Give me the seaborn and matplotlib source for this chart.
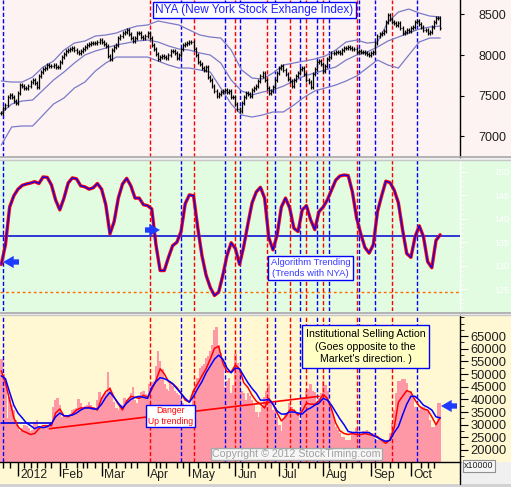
import numpy as np
import pandas as pd
import matplotlib
matplotlib.use("Agg")
import matplotlib.pyplot as plt
import seaborn as sns
from matplotlib.lines import Line2D
from matplotlib.patches import Rectangle
from matplotlib.ticker import FixedLocator
from matplotlib.transforms import blended_transform_factory

# ---------------- data ----------------
holidays = ["2011-12-26", "2012-01-02", "2012-01-16", "2012-02-20",
            "2012-04-06", "2012-05-28", "2012-07-04", "2012-09-03"]
dates = pd.bdate_range("2011-12-20", "2012-10-19")
dates = dates[~dates.isin(pd.to_datetime(holidays))]
days = np.arange(len(dates))

nya_close = [
    7288, 7349, 7386, 7484, 7509, 7484, 7435, 7410, 7533, 7631,
    7619, 7595, 7595, 7619, 7668, 7693, 7656, 7607, 7742, 7791,
    7828, 7840, 7877, 7865, 7865, 7877, 7853, 7853, 7914, 7975,
    8012, 8049, 8061, 8074, 8086, 8061, 8037, 8025, 8049, 8074,
    8098, 8123, 8135, 8147, 8147, 8147, 8160, 8184, 8160, 8135,
    8111, 7988, 7951, 8061, 8098, 8123, 8209, 8233, 8270, 8283,
    8307, 8258, 8209, 8172, 8209, 8270, 8270, 8221, 8209, 8233,
    8270, 8209, 8123, 8074, 8012, 7951, 7975, 7988, 7975, 7963,
    8000, 8049, 8049, 8025, 7963, 8000, 8074, 8123, 8135, 8147,
    8160, 8160, 8074, 8000, 7914, 7889, 7840, 7816, 7853, 7730,
    7693, 7619, 7558, 7496, 7521, 7545, 7558, 7570, 7545, 7558,
    7484, 7484, 7398, 7337, 7312, 7410, 7484, 7533, 7521, 7496,
    7570, 7595, 7619, 7681, 7742, 7779, 7693, 7595, 7533, 7558,
    7607, 7693, 7779, 7840, 7865, 7816, 7767, 7705, 7681, 7619,
    7693, 7742, 7779, 7828, 7840, 7767, 7693, 7668, 7607, 7767,
    7828, 7914, 7926, 7889, 7803, 7865, 7951, 7975, 8025, 8025,
    8037, 8037, 8025, 8061, 8086, 8086, 8098, 8086, 8074, 8074,
    8037, 8049, 8037, 8037, 8025, 8012, 8000, 8025, 8037, 8147,
    8233, 8258, 8270, 8295, 8405, 8491, 8442, 8405, 8393, 8369,
    8393, 8332, 8270, 8283, 8307, 8295, 8332, 8344, 8405, 8418,
    8381, 8344, 8307, 8307, 8270, 8283, 8344, 8405, 8455, 8455, 8332]

# Bollinger bands, one value every 5 trading days
band_upper = [7681, 7668, 7668, 7730, 7853, 7926, 8061, 8147, 8172, 8233,
              8246, 8270, 8319, 8356, 8369, 8418, 8393, 8369, 8307, 8246,
              8221, 8209, 8061, 7816, 7717, 7705, 7779, 7877, 7902, 7926,
              7951, 7988, 8061, 8160, 8184, 8147, 8160, 8405, 8528, 8565,
              8516, 8479, 8467]
band_mid = [7288, 7398, 7435, 7447, 7570, 7693, 7791, 7902, 8000, 8049,
            8086, 8123, 8147, 8172, 8184, 8160, 8111, 8074, 8061, 8025,
            8000, 7902, 7693, 7558, 7509, 7545, 7570, 7619, 7681, 7742,
            7779, 7816, 7853, 7939, 8000, 8037, 8098, 8172, 8221, 8270,
            8319, 8344, 8356]
band_lower = [6894, 7116, 7128, 7128, 7263, 7398, 7472, 7595, 7668, 7803,
              7902, 7975, 7975, 7975, 7975, 7926, 7877, 7840, 7840, 7816,
              7791, 7595, 7398, 7263, 7238, 7263, 7300, 7300, 7386, 7484,
              7558, 7595, 7631, 7681, 7742, 7840, 7939, 7877, 7840, 8000,
              8160, 8209, 8209]

# Algorithm trending oscillator, one value every 2 trading days
algo = [130.3, 134.5, 142.5, 144.9, 146.3, 147.1, 147.4, 147.6, 147.9, 147.5,
        148.9, 148.8, 147.2, 144.0, 141.9, 144.4, 147.6, 148.7, 148.5, 147.0,
        146.8, 146.3, 146.6, 147.5, 146.3, 143.0, 136.8, 139.4, 144.4, 147.4,
        148.6, 147.0, 144.4, 144.4, 143.0, 142.8, 142.1, 134.5, 129.0, 129.0,
        131.8, 134.3, 135.0, 137.3, 143.2, 145.1, 144.9, 138.1, 132.2, 128.0,
        125.4, 123.7, 124.4, 128.0, 132.2, 134.9, 133.7, 130.3, 134.1, 138.9,
        143.4, 145.7, 146.7, 144.4, 136.0, 133.4, 136.6, 142.5, 144.4, 142.3,
        138.0, 137.3, 141.9, 142.8, 139.8, 137.7, 141.5, 142.5, 144.0, 146.1,
        148.2, 149.1, 149.3, 149.2, 145.7, 140.2, 136.8, 133.9, 132.7, 134.5,
        141.5, 144.9, 148.0, 147.7, 146.1, 143.4, 137.7, 132.6, 131.8, 136.2,
        138.5, 136.2, 130.9, 129.6, 135.4, 136.6]
algo_level = 136.3
algo_low_level = 124.5

# Institutional selling (x10000)
inst_volume = [
    55900, 50100, 46600, 32700, 40800, 37700, 35800, 31900, 30000, 27300,
    28800, 30000, 29600, 28800, 27300, 28000, 31100, 31900, 28800, 28800,
    29200, 30000, 30000, 30000, 31100, 36900, 39700, 40400, 37700, 33100,
    33500, 33800, 33100, 34200, 35800, 36200, 36600, 40000, 38500, 36900,
    37300, 37700, 38900, 37700, 36900, 36600, 39700, 42800, 40800, 41200,
    42400, 50900, 44700, 41600, 38900, 36600, 35800, 36900, 37700, 40400,
    39700, 40000, 42400, 44700, 39700, 38500, 40800, 42800, 43500, 42000,
    41600, 46200, 47000, 47400, 53200, 59000, 55200, 52100, 46200, 44300,
    43500, 46600, 45100, 43500, 42400, 41600, 40400, 38500, 37700, 36900,
    35800, 37700, 43500, 46200, 48600, 52400, 53200, 54000, 56300, 57100,
    59000, 61700, 67600, 68700, 61700, 58300, 54000, 44700, 47400, 48600,
    42400, 45500, 57900, 54400, 51300, 43500, 42400, 39700, 42400, 41200,
    39700, 37700, 35000, 33100, 35000, 36900, 40800, 43500, 46200, 39700,
    35800, 35000, 33100, 30000, 27300, 31900, 34600, 34600, 38500, 36900,
    35800, 34600, 33800, 31900, 40800, 40800, 43500, 44300, 46200, 43500,
    42800, 38500, 40400, 42400, 47400, 45500, 43500, 38500, 35800, 33100,
    29200, 28000, 26900, 25300, 25300, 24100, 24100, 24100, 26900, 26900,
    28800, 26100, 26100, 27300, 27300, 28000, 26900, 26900, 26900, 24100,
    24100, 24900, 24100, 23400, 24100, 24100, 26900, 30700, 35800, 42400,
    47400, 47400, 48200, 48200, 46600, 43500, 43500, 40800, 36900, 36900,
    35800, 36900, 36900, 35800, 35800, 31900, 29200, 29200, 30700, 38500, 38500]

# fast (red) and slow (blue) averages, one value every 2 trading days
inst_fast = [51300, 46600, 39700, 32700, 29200, 27600, 26900, 26100, 26500, 28400,
             29600, 29600, 29600, 34600, 36200, 33500, 33100, 34200, 35800, 36600,
             36600, 36900, 36600, 35800, 40400, 43100, 44300, 40800, 38100, 35800,
             39300, 41200, 40800, 40400, 41600, 40800, 43900, 47400, 52100, 50100,
             47000, 46200, 44700, 42400, 39700, 38900, 43500, 46200, 49300, 52100,
             55900, 60200, 61000, 54400, 50900, 50900, 53600, 52100, 46600, 44700,
             41600, 39300, 38100, 36600, 40400, 38100, 34600, 31500, 33100, 35800,
             35800, 33800, 35400, 38500, 38100, 38100, 39300, 42000, 40400, 36200,
             30700, 27600, 26500, 26100, 26500, 26100, 26100, 26500, 26100, 25700,
             25300, 23800, 22600, 24100, 28800, 38900, 41200, 43500, 42800, 39700,
             37300, 36200, 35800, 33100, 30000, 32700]
inst_slow = [49300, 48200, 42800, 37700, 34600, 32700, 30700, 29600, 28400, 29200,
             28800, 29200, 30400, 33100, 34600, 33500, 33500, 33800, 34600, 35800,
             36600, 36600, 36200, 36200, 38100, 40800, 42800, 40800, 38500, 36600,
             38500, 40000, 40800, 41200, 40800, 40400, 44700, 47000, 48600, 48200,
             47400, 46200, 44300, 42400, 40400, 38900, 41200, 44300, 47000, 50500,
             53200, 55900, 57500, 55900, 52400, 50500, 52400, 52100, 49300, 46600,
             44300, 42400, 39700, 39700, 40000, 38100, 35400, 34200, 34200, 35000,
             35000, 34600, 34200, 35800, 36600, 37700, 38500, 40400, 39700, 37700,
             35000, 32300, 30000, 27300, 26900, 26900, 26900, 26900, 26900, 25700,
             24900, 24100, 23400, 23800, 26900, 29200, 33800, 38100, 41200, 41200,
             39700, 37700, 36900, 35800, 33100, 32700]
trend_days = [23, 152]
trend_vals = [28400, 41200]
support_days = [0, 24]
support_vals = [30700, 30700]

signal_red = [71, 92, 112, 127, 138, 146, 154, 170, 187]
signal_blue = [1, 86, 107, 114, 131, 143, 151, 157, 171, 179, 199]

month_labels = ["2012", "Feb", "Mar", "Apr", "May", "Jun", "Jul", "Aug", "Sep", "Oct"]
price_ticks = [7000, 7500, 8000, 8500]
algo_ticks = [125, 130, 135, 140, 145, 150]
vol_ticks = [20000, 25000, 30000, 35000, 40000, 45000, 50000, 55000, 60000, 65000]

days2 = days[::2]
days5 = days[::5]

# ---------------- style ----------------
sns.set_style("white")
plt.rcParams["font.family"] = ["Liberation Sans", "DejaVu Sans"]

W, H = 511, 487
PINK_BG = "#FDF3F3"
GREEN_BG = "#E2FCE2"
YELLOW_BG = "#FFF8D2"
BAR = "#FF98A6"
BAND = "#7A7AC8"
RED = "#FF0000"
BLUE = "#0000FF"

fig = plt.figure(figsize=(W / 100, H / 100), dpi=100)
fig.patch.set_facecolor("#F0F0F0")


def fbox(x0, y0, x1, y1):
    return [x0 / W, 1 - y1 / H, (x1 - x0) / W, (y1 - y0) / H]


def bg(x0, y0, x1, y1, color):
    fig.add_artist(Rectangle((x0 / W, 1 - y1 / H), (x1 - x0) / W, (y1 - y0) / H,
                             transform=fig.transFigure, fc=color, ec="none", zorder=0))


def hline_px(y, color, lw=1.0, x0=0, x1=W):
    fig.add_artist(Line2D([x0 / W, x1 / W], [1 - y / H, 1 - y / H],
                          transform=fig.transFigure, color=color, lw=lw, zorder=10))


bg(0, 0, W, 157, PINK_BG)
bg(0, 160, W, 312, GREEN_BG)
bg(0, 315, W, 462, YELLOW_BG)
bg(0, 462, 460, 484, YELLOW_BG)
bg(460, 462, W, 484, "#F0F0F0")
hline_px(157.5, "#A8A8A8", 1.2)
hline_px(159.5, "#C8C8C8", 1.0)
hline_px(312.5, "#A8A8A8", 1.2)
hline_px(314.5, "#C8C8C8", 1.0)
hline_px(485, "#D0D0D0", 2.0)

XL = (-1.28 / 2.09, (460 - 1.28) / 2.09)
dash = (0, (3, 1.6))


def signals(ax):
    for d in signal_red:
        ax.axvline(d, color=RED, ls=dash, lw=1.0, zorder=3)
    for d in signal_blue:
        ax.axvline(d, color=BLUE, ls=dash, lw=1.0, zorder=3)


def frame(ax, face, spine_color):
    ax.set_facecolor(face)
    ax.set_xlim(*XL)
    for s in ["left", "top", "bottom"]:
        ax.spines[s].set_visible(False)
    ax.spines["right"].set_color(spine_color)
    ax.spines["right"].set_linewidth(1.0)
    ax.yaxis.tick_right()
    ax.set_xticks([])


def arrow(ax, x_tail, x_head, y, top, height):
    yy = 1 - (y - top) / height
    ax.annotate("", xy=(x_head / 460, yy), xytext=(x_tail / 460, yy),
                xycoords="axes fraction", textcoords="axes fraction",
                arrowprops=dict(arrowstyle="simple,head_length=0.7,head_width=0.8,tail_width=0.35",
                                color="#1E3CFF", lw=0, mutation_scale=11,
                                shrinkA=0, shrinkB=0), zorder=9)


# ---------------- price panel ----------------
ax1 = fig.add_axes(fbox(0, 0, 460, 157))
frame(ax1, PINK_BG, "black")
ax1.set_ylim(6747, 8676)
signals(ax1)
close = np.asarray(nya_close, float)
opens = np.r_[close[0], close[:-1]]
hi = np.maximum(opens, close) + 20
lo = np.minimum(opens, close) - 20
ax1.vlines(days, lo, hi, color="black", lw=0.9, zorder=5)
ax1.hlines(opens, days - 0.45, days, color="black", lw=0.9, zorder=5)
ax1.hlines(close, days, days + 0.45, color="black", lw=0.9, zorder=5)
for band in (band_upper, band_mid, band_lower):
    sns.lineplot(x=days5, y=band, ax=ax1, color=BAND, lw=0.9, estimator=None,
                 sort=False, zorder=4)
ax1.set_yticks(price_ticks)
ax1.tick_params(axis="y", direction="out", length=3, pad=10.5, labelsize=9,
                colors="black", labelcolor="#202020")
ax1.set_ylabel("")
ax1.text(254.5 / 460, 1 - 10 / 157, "NYA (New York Stock Exhange Index)",
         transform=ax1.transAxes, ha="center", va="center", fontsize=8.5,
         color="#2020FF", zorder=8,
         bbox=dict(boxstyle="square,pad=0.18", fc="white", ec=BLUE, lw=1.0))

# ---------------- algorithm panel ----------------
ax2 = fig.add_axes(fbox(0, 160, 460, 311))
frame(ax2, GREEN_BG, "white")
ax2.set_ylim(120.4, 152.5)
signals(ax2)
ax2.axhline(algo_level, color="#0000D0", lw=1.1, zorder=4)
ax2.axhline(algo_low_level, color="#FF6A00", ls=(0, (2, 2)), lw=1.0, zorder=4)
sns.lineplot(x=days2, y=algo, ax=ax2, color=RED, lw=2.4, estimator=None,
             sort=False, zorder=5)
sns.lineplot(x=days2, y=algo, ax=ax2, color="#0000FF", lw=0.9, estimator=None,
             sort=False, zorder=6)
ax2.set_yticks(algo_ticks)
ax2.yaxis.set_minor_locator(FixedLocator(np.arange(121, 153, 1)))
ax2.tick_params(axis="y", which="major", direction="out", length=5, pad=20,
                labelsize=6.5, colors="white", labelcolor="white")
ax2.tick_params(axis="y", which="minor", direction="out", length=2.5,
                colors="white")
ax2.set_ylabel("")
ax2.text(310.5 / 460, 1 - (268 - 160) / 151, "Algorithm Trending\n(Trends with NYA)",
         transform=ax2.transAxes, ha="center", va="center", fontsize=6.8,
         color="#3A3AFF", linespacing=1.25, zorder=8,
         bbox=dict(boxstyle="square,pad=0.25", fc="white", ec=BLUE, lw=1.0))
arrow(ax2, 19, 3, 262, 160, 151)
arrow(ax2, 145, 160, 230, 160, 151)

# ---------------- institutional selling panel ----------------
ax3 = fig.add_axes(fbox(0, 315, 460, 462))
frame(ax3, YELLOW_BG, "black")
ax3.set_ylim(15233, 73373)
ax3.bar(days, inst_volume, width=1.25, color=BAR, lw=0, zorder=2)
signals(ax3)
sns.lineplot(x=trend_days, y=trend_vals, ax=ax3, color=RED, lw=1.2,
             estimator=None, sort=False, zorder=4)
sns.lineplot(x=support_days, y=support_vals, ax=ax3, color="#0000E0", lw=1.2,
             estimator=None, sort=False, zorder=4)
sns.lineplot(x=days2, y=inst_fast, ax=ax3, color=RED, lw=1.1, estimator=None,
             sort=False, zorder=5)
sns.lineplot(x=days2, y=inst_slow, ax=ax3, color="#0000FF", lw=1.1, estimator=None,
             sort=False, zorder=6)
ax3.set_ylabel("")
ax3.set_yticks(vol_ticks)
ax3.yaxis.set_minor_locator(FixedLocator(np.arange(17500, 73000, 2500)))
ax3.tick_params(axis="y", which="major", direction="out", length=5.5, pad=2,
                labelsize=9.3, colors="black", labelcolor="#202020")
ax3.tick_params(axis="y", which="minor", direction="out", length=3, colors="black")

# x axis (calendar)
month_idx = [int(np.argmax((dates.year == 2012) & (dates.month == m))) for m in range(1, 11)]
minor_idx = []
for m in range(1, 11):
    for dd in (6, 11, 16, 21, 26):
        sel = np.where((dates.year == 2012) & (dates.month == m) & (dates.day >= dd))[0]
        if len(sel):
            minor_idx.append(int(sel[0]))
minor_idx.append(int(np.where((dates.month == 12) & (dates.day >= 21))[0][0]))
minor_idx.append(int(np.where((dates.month == 12) & (dates.day >= 26))[0][0]))
ax3.spines["bottom"].set_visible(True)
ax3.spines["bottom"].set_color("black")
ax3.spines["bottom"].set_linewidth(1.0)
ax3.xaxis.set_major_locator(FixedLocator(month_idx))
ax3.xaxis.set_minor_locator(FixedLocator(minor_idx))
ax3.tick_params(axis="x", which="major", direction="out", length=10, width=1,
                colors="black", labelbottom=False, bottom=True)
ax3.tick_params(axis="x", which="minor", direction="out", length=4, width=1,
                colors="black", bottom=True)
tr = blended_transform_factory(ax3.transData, ax3.transAxes)
for mi, lab in zip(month_idx, month_labels):
    ax3.text(mi + 1.2, -13 / 147, lab, transform=tr, ha="left", va="center",
             fontsize=8.7, color="#202020", clip_on=False)

fig.add_artist(Line2D([460 / W, 460 / W], [1 - 484 / H, 1 - 462 / H],
                      transform=fig.transFigure, color="black", lw=1.0, zorder=10))

ax3.text(170.5 / 460, 1 - (416 - 315) / 147, "Danger\nUp trending",
         transform=ax3.transAxes, ha="center", va="center", fontsize=6.2,
         color="#FF0000", linespacing=1.2, zorder=8,
         bbox=dict(boxstyle="square,pad=0.2", fc="white", ec=BLUE, lw=1.0))
ax3.text(365.5 / 460, 1 - (346.5 - 315) / 147,
         "Institutional Selling Action\n(Goes opposite to the\nMarket's direction. )",
         transform=ax3.transAxes, ha="center", va="center", fontsize=7.6,
         color="black", linespacing=1.3, zorder=8,
         bbox=dict(boxstyle="square,pad=0.35", fc="#FFFFC4", ec=BLUE, lw=1.0))
ax3.text(296.5 / 460, 1 - (454 - 315) / 147, "Copyright \u00a9 2012 StockTiming.com",
         transform=ax3.transAxes, ha="center", va="center", fontsize=7.7,
         color="#A0A0A0", zorder=8,
         bbox=dict(boxstyle="square,pad=0.12", fc="#F6F6F6", ec="#A8A8A8", lw=1.0))
arrow(ax3, 457, 441, 406, 315, 147)

fig.text(479 / W, 1 - 466 / H, "x10000", ha="center", va="center", fontsize=6.4,
         color="#202020", zorder=12,
         bbox=dict(boxstyle="square,pad=0.15", fc="#F6F6F6", ec="#909090", lw=0.8))

fig.savefig("out.png", dpi=100)
